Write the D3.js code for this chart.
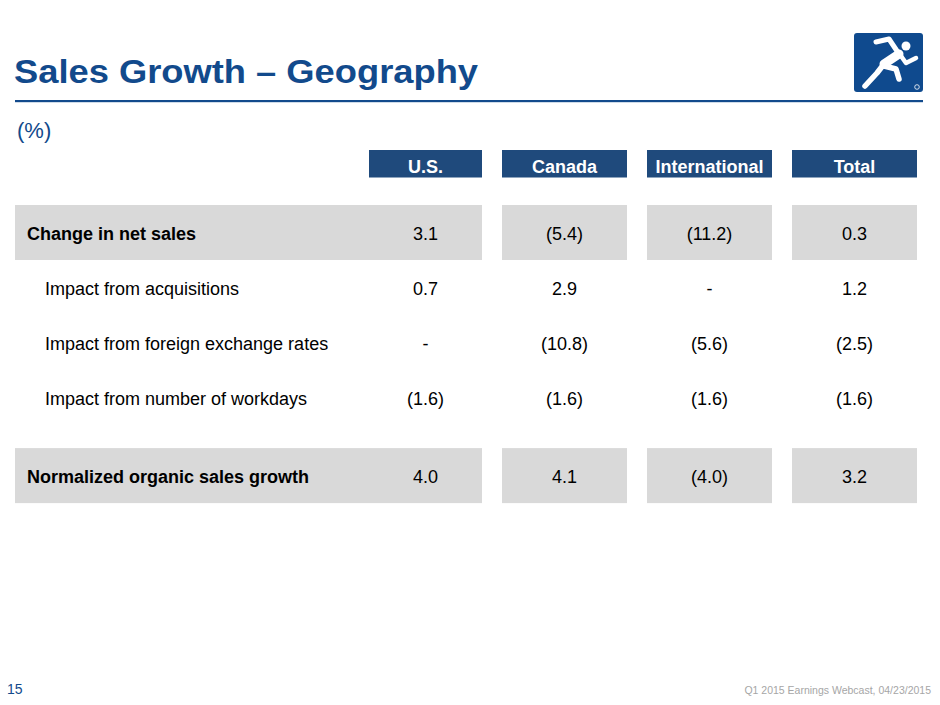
<!DOCTYPE html>
<html>
<head>
<meta charset="utf-8">
<script src="https://cdn.jsdelivr.net/npm/d3@7"></script>
<style>
  body { margin: 0; background: #fff; }
  svg { display: block; font-family: "Liberation Sans", Arial, sans-serif; }
</style>
</head>
<body>
<div id="slide"></div>
<script>
// column headers and rows
const regions = ["U.S.", "Canada", "International", "Total"];
const rowLabels = [
  "Change in net sales",
  "Impact from acquisitions",
  "Impact from foreign exchange rates",
  "Impact from number of workdays",
  "Normalized organic sales growth"
];
const rowBold = [true, false, false, false, true];
const usValues = ["3.1", "0.7", "-", "(1.6)", "4.0"];
const canadaValues = ["(5.4)", "2.9", "(10.8)", "(1.6)", "4.1"];
const intlValues = ["(11.2)", "-", "(5.6)", "(1.6)", "(4.0)"];
const totalValues = ["0.3", "1.2", "(2.5)", "(1.6)", "3.2"];

const valuesByRegion = [usValues, canadaValues, intlValues, totalValues];

const W = 940, H = 705;
const blue = "#124a8c", headBlue = "#1f4a7c", gray = "#d9d9d9";

const svg = d3.select("#slide").append("svg")
  .attr("width", W).attr("height", H);

// title + rule
svg.append("text")
  .attr("x", 14).attr("y", 83)
  .attr("font-size", 34).attr("font-weight", "bold")
  .attr("fill", blue)
  .attr("textLength", 464).attr("lengthAdjust", "spacingAndGlyphs")
  .text("Sales Growth \u2013 Geography");

svg.append("rect")
  .attr("x", 15).attr("y", 100).attr("width", 908).attr("height", 2.2)
  .attr("fill", blue);

svg.append("text")
  .attr("x", 17).attr("y", 138)
  .attr("font-size", 22).attr("fill", blue)
  .text("(%)");

// logo
const logo = svg.append("g");
logo.append("rect")
  .attr("x", 854).attr("y", 33).attr("width", 69).attr("height", 59)
  .attr("rx", 3).attr("fill", "#0f4a8e");
const runner = [
  { d: "M876,42 L889,39 L897,51", w: 5 },
  { d: "M899,54 L884,64", w: 9 },
  { d: "M884,64 L877,73 L865,86", w: 5.5 },
  { d: "M884,66 L896,69 L899,79", w: 5.5 },
  { d: "M901,56 L906,63 L916,58", w: 4.5 }
];
logo.selectAll("path").data(runner).join("path")
  .attr("d", d => d.d)
  .attr("fill", "none").attr("stroke", "#fff")
  .attr("stroke-width", d => d.w)
  .attr("stroke-linecap", "round").attr("stroke-linejoin", "round");
logo.append("circle").attr("cx", 906).attr("cy", 46).attr("r", 4.5).attr("fill", "#fff");
logo.append("circle").attr("cx", 917).attr("cy", 87).attr("r", 2.3)
  .attr("fill", "none").attr("stroke", "#fff").attr("stroke-width", 0.8);

// scales
const x = d3.scaleBand()
  .domain(regions)
  .range([357, 917])
  .paddingInner(20 / 145)
  .paddingOuter(0);

// first header is a bit narrower than the others
const headX = (d, i) => x(d) + (i === 0 ? 12 : 0);
const headW = (d, i) => x.bandwidth() - (i === 0 ? 12 : 0);
const colCenter = (d, i) => headX(d, i) + headW(d, i) / 2;

const rowH = 55;
const slot = i => i + (i === 4 ? 0.42 : 0);
const y = d3.scaleLinear().domain([0, 1]).range([232.5, 232.5 + rowH]);

// header boxes
const heads = svg.append("g").selectAll("g").data(regions).join("g");
heads.append("rect")
  .attr("x", headX).attr("y", 150)
  .attr("width", headW).attr("height", 27.5)
  .attr("fill", headBlue);
heads.append("text")
  .attr("x", colCenter).attr("y", 173)
  .attr("text-anchor", "middle")
  .attr("font-size", 18).attr("font-weight", "bold")
  .attr("fill", "#fff")
  .text(d => d);

// gray highlighted rows
const boldRows = rowLabels.map((r, i) => i).filter(i => rowBold[i]);
boldRows.forEach(i => {
  const g = svg.append("g");
  regions.forEach((d, j) => {
    const left = j === 0 ? 15 : headX(d, j);
    const right = headX(d, j) + headW(d, j);
    g.append("rect")
      .attr("x", left).attr("y", y(slot(i)) - rowH / 2)
      .attr("width", right - left).attr("height", rowH)
      .attr("fill", gray);
  });
});

// row labels
svg.append("g").selectAll("text").data(rowLabels).join("text")
  .attr("x", (d, i) => rowBold[i] ? 27 : 45)
  .attr("y", (d, i) => y(slot(i)) + 7)
  .attr("font-size", 18)
  .attr("font-weight", (d, i) => rowBold[i] ? "bold" : "normal")
  .attr("fill", "#000")
  .text(d => d);

// values
regions.forEach((reg, j) => {
  svg.append("g").selectAll("text").data(valuesByRegion[j]).join("text")
    .attr("x", colCenter(reg, j))
    .attr("y", (d, i) => y(slot(i)) + 7)
    .attr("text-anchor", "middle")
    .attr("font-size", 18)
    .attr("fill", "#000")
    .text(d => d);
});

// footer
svg.append("text")
  .attr("x", 7).attr("y", 694)
  .attr("font-size", 14).attr("fill", blue)
  .text("15");
svg.append("text")
  .attr("x", 931).attr("y", 694)
  .attr("text-anchor", "end")
  .attr("font-size", 10.5).attr("fill", "#a6a6a6")
  .text("Q1 2015 Earnings Webcast, 04/23/2015");
</script>
</body>
</html>
